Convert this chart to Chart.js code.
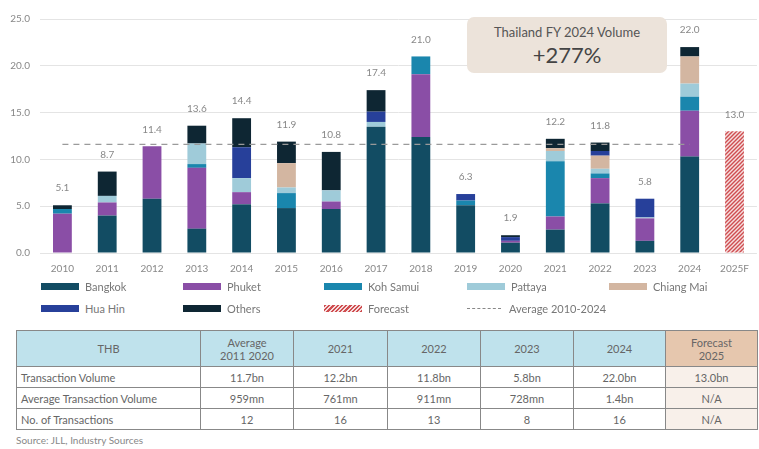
<!DOCTYPE html>
<html>
<head>
<meta charset="utf-8">
<script src="https://cdn.jsdelivr.net/npm/chart.js@4"></script>
<style>
  body { margin: 0; background: #fff; font-family: Lato, "Open Sans", sans-serif; color: #666; }
  #wrap { position: relative; width: 759px; height: 449px; overflow: hidden; }
  #chartBox { position: absolute; left: 0; top: 0; width: 759px; height: 291px; }
  .callout { position: absolute; left: 467px; top: 17px; width: 200px; height: 56px; background: #ece3da; border-radius: 7px; text-align: center; color: #555; }
  .callout .t1 { font-size: 13px; margin-top: 7px; }
  .callout .t2 { font-size: 22px; margin-top: 1px; color: #444; }
  .leg { position: absolute; font-size: 11px; color: #777; display: flex; align-items: center; }
  .leg .sw { width: 38px; height: 7px; margin-right: 6px; }
  table { position: absolute; left: 16px; top: 330px; border-collapse: collapse; font-size: 11px; color: #666; table-layout: fixed; }
  td, th { border: 1px solid #888; font-weight: normal; text-align: center; padding: 0; }
  th { background: #bfe2ec; height: 35px; line-height: 13px; }
  td { height: 20px; }
  td.lbl { text-align: left; padding-left: 4px; }
  th.fc { background: #e6c7ae; }
  td.fc { background: #f8f0ea; }
  .src { position: absolute; left: 16px; top: 434px; font-size: 10px; color: #888; }
</style>
</head>
<body>
<div id="wrap">
  <div id="chartBox"><canvas id="volumeChart"></canvas></div>
  <div class="callout"><div class="t1">Thailand FY 2024 Volume</div><div class="t2">+277%</div></div>
  <div id="legend"></div>
  <table>
    <colgroup>
      <col style="width:184px"><col style="width:93px"><col style="width:94px"><col style="width:93px"><col style="width:93px"><col style="width:92px"><col style="width:92px">
    </colgroup>
    <tr><th>THB</th><th>Average<br>2011 2020</th><th>2021</th><th>2022</th><th>2023</th><th>2024</th><th class="fc">Forecast<br>2025</th></tr>
    <tr><td class="lbl">Transaction Volume</td><td>11.7bn</td><td>12.2bn</td><td>11.8bn</td><td>5.8bn</td><td>22.0bn</td><td class="fc">13.0bn</td></tr>
    <tr><td class="lbl">Average Transaction Volume</td><td>959mn</td><td>761mn</td><td>911mn</td><td>728mn</td><td>1.4bn</td><td class="fc">N/A</td></tr>
    <tr><td class="lbl">No. of Transactions</td><td>12</td><td>16</td><td>13</td><td>8</td><td>16</td><td class="fc">N/A</td></tr>
  </table>
  <div class="src">Source: JLL, Industry Sources</div>
</div>
<script>
const years = ['2010', '2011', '2012', '2013', '2014', '2015', '2016', '2017', '2018', '2019', '2020', '2021', '2022', '2023', '2024', '2025F'];

// THB bn by location
const bangkok   = [0, 4.0, 5.8, 2.6, 5.2, 4.8, 4.7, 13.5, 12.4, 5.1, 1.1, 2.5, 5.3, 1.3, 10.3, null];
const phuket    = [4.2, 1.4, 5.6, 6.5, 1.3, 0, 0.8, 0, 6.7, 0, 0.2, 1.4, 2.7, 2.4, 4.9, null];
const kohSamui  = [0.5, 0, 0, 0.4, 0, 1.6, 0, 0, 1.9, 0.5, 0, 5.9, 0.5, 0, 1.5, null];
const pattaya   = [0, 0.7, 0, 2.2, 1.5, 0.6, 1.2, 0.5, 0, 0, 0, 1.1, 0.5, 0.1, 1.4, null];
const chiangMai = [0, 0, 0, 0, 0, 2.6, 0, 0, 0, 0, 0, 0.3, 1.4, 0, 2.9, null];
const huaHin    = [0, 0, 0, 0, 3.3, 0, 0, 1.1, 0, 0.7, 0.4, 0, 0.5, 2.0, 0, null];
const others    = [0.4, 2.6, 0, 1.9, 3.1, 2.3, 4.1, 2.3, 0, 0, 0.2, 1.0, 0.9, 0, 1.0, null];
const forecast  = [null, null, null, null, null, null, null, null, null, null, null, null, null, null, null, 13.0];
const totals    = [5.1, 8.7, 11.4, 13.6, 14.4, 11.9, 10.8, 17.4, 21.0, 6.3, 1.9, 12.2, 11.8, 5.8, 22.0, 13.0];
const average   = [11.6, 11.6, 11.6, 11.6, 11.6, 11.6, 11.6, 11.6, 11.6, 11.6, 11.6, 11.6, 11.6, 11.6, 11.6, null];
const yTicks    = [0, 5, 10, 15, 20, 25];

const colors = {
    bangkok: '#124c63', phuket: '#8a4ea6', kohSamui: '#1a86ad', pattaya: '#9fcbd9',
    chiangMai: '#d3b6a1', huaHin: '#27409a', others: '#0e2633', red: '#cf4d50'
};

function hatch() {
    const c = document.createElement('canvas');
    c.width = 4; c.height = 4;
    const g = c.getContext('2d');
    g.fillStyle = '#f6dede';
    g.fillRect(0, 0, 4, 4);
    g.strokeStyle = colors.red;
    g.lineWidth = 1.4;
    g.beginPath();
    g.moveTo(0, 4); g.lineTo(4, 0);
    g.moveTo(-2, 2); g.lineTo(2, -2);
    g.moveTo(2, 6); g.lineTo(6, 2);
    g.stroke();
    return g.createPattern(c, 'repeat');
}

/* ===== legend (html) ===== */
const legendItems = [
    ['Bangkok', colors.bangkok], ['Phuket', colors.phuket], ['Koh Samui', colors.kohSamui],
    ['Pattaya', colors.pattaya], ['Chiang Mai', colors.chiangMai],
    ['Hua Hin', colors.huaHin], ['Others', colors.others], ['Forecast', 'hatch'], ['Average 2010-2024', 'dash']
];
const legendX = [41, 183, 324, 467, 609];
const legendEl = document.getElementById('legend');
legendItems.forEach((item, i) => {
    const d = document.createElement('div');
    d.className = 'leg';
    d.style.left = legendX[i % 5] + 'px';
    d.style.top = (i < 5 ? 280 : 302) + 'px';
    const sw = document.createElement('span');
    sw.className = 'sw';
    if (item[1] === 'hatch') {
        sw.style.background = 'repeating-linear-gradient(-45deg, #cf4d50 0 1.5px, #f6dede 1.5px 3px)';
    } else if (item[1] === 'dash') {
        sw.style.height = '0';
        sw.style.borderTop = '1px dashed #888';
        sw.style.width = '34px';
        sw.style.marginRight = '8px';
    } else {
        sw.style.background = item[1];
    }
    d.appendChild(sw);
    d.appendChild(document.createTextNode(item[0]));
    legendEl.appendChild(d);
});

/* ===== totals above bars ===== */
const totalLabels = {
    id: 'totalLabels',
    afterDatasetsDraw(chart) {
        const { ctx, scales: { x, y } } = chart;
        ctx.save();
        ctx.font = '10px Lato, sans-serif';
        ctx.fillStyle = '#888';
        ctx.textAlign = 'center';
        ctx.textBaseline = 'middle';
        totals.forEach((t, i) => {
            ctx.fillText(t.toFixed(1), x.getPixelForValue(i), y.getPixelForValue(t) - 17);
        });
        ctx.restore();
    }
};

const bar = (label, data, color) => ({
    type: 'bar', label, data, backgroundColor: color, borderWidth: 0,
    barPercentage: 0.42, categoryPercentage: 1, stack: 's', order: 2
});

new Chart(document.getElementById('volumeChart'), {
    data: {
        labels: years,
        datasets: [
            bar('Bangkok', bangkok, colors.bangkok),
            bar('Phuket', phuket, colors.phuket),
            bar('Koh Samui', kohSamui, colors.kohSamui),
            bar('Pattaya', pattaya, colors.pattaya),
            bar('Chiang Mai', chiangMai, colors.chiangMai),
            bar('Hua Hin', huaHin, colors.huaHin),
            bar('Others', others, colors.others),
            bar('Forecast', forecast, hatch()),
            {
                type: 'line', label: 'Average 2010-2024', data: average,
                borderColor: '#9a9a9a', borderWidth: 1.3, borderDash: [6, 5],
                pointRadius: 0, stack: 'avg', order: 0
            }
        ]
    },
    options: {
        responsive: true,
        maintainAspectRatio: false,
        animation: false,
        layout: { padding: { top: 19, right: 2, bottom: 6, left: 0 } },
        plugins: { legend: { display: false }, tooltip: { enabled: false } },
        scales: {
            x: {
                stacked: true,
                grid: { display: false, drawTicks: false },
                border: { display: false },
                ticks: { color: '#888', font: { size: 10, family: 'Lato' }, padding: 10, maxRotation: 0, autoSkip: false }
            },
            y: {
                stacked: true,
                min: 0, max: 25,
                afterBuildTicks: s => { s.ticks = yTicks.map(v => ({ value: v })); },
                afterFit: s => { s.width = 40; },
                grid: { color: '#e4e4e4', drawTicks: false },
                border: { display: false },
                ticks: { color: '#888', font: { size: 10, family: 'Lato' }, padding: 10, callback: v => v.toFixed(1) }
            }
        }
    },
    plugins: [totalLabels]
});
</script>
</body>
</html>
